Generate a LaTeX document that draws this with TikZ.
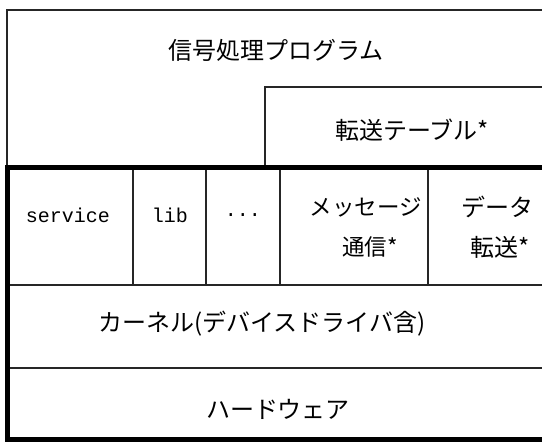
\documentclass[tikz,border=0pt]{standalone}
\usepackage{fontspec}
\newfontfamily\jp{Noto Sans CJK JP}
\setmonofont{Liberation Mono}
\begin{document}
\begin{tikzpicture}[x=1pt,y=-1pt,
  thin/.style={line width=1.6pt,black!85},
  thick/.style={line width=5pt,black},
  lbl/.style={inner sep=0pt,font=\jp\fontsize{24}{40}\selectfont,align=center},
  mono/.style={inner sep=0pt,font=\ttfamily\fontsize{20}{24}\selectfont}]
\useasboundingbox (0,0) rectangle (542,446);
% top box
\draw[thin] (542,10) -- (7,10) -- (7,168);
\draw[thin] (265,168) -- (265,87) -- (542,87);
% dividers
\foreach \x in {133,206,280,428} \draw[thin] (\x,168) -- (\x,285);
\draw[thin] (7,285) -- (542,285);
\draw[thin] (7,368) -- (542,368);
% thick frame
\draw[thick] (542,168) -- (7,168) -- (7,440) -- (542,440);
% labels
\node[lbl] (sig) at (276,50) {信号処理プログラム};
\node[lbl] (tab) at (412,130) {転送テーブル*};
\node[mono] (svc) at (68,215) {service};
\node[mono] (lib) at (170,215) {lib};
\node[mono] (dots) at (243,215) {...};
\node[lbl,font=\jp\fontsize{22.5}{40}\selectfont] (msg) at (366,227) {メッセージ\\\hspace*{8pt}通信*};
\node[lbl] (dat) at (497,227) {データ\\\hspace*{6pt}転送*};
\node[lbl] (ker) at (262,324) {カーネル(デバイスドライバ含)};
\node[lbl] (hw) at (278,409) {ハードウェア};
\end{tikzpicture}
\end{document}
